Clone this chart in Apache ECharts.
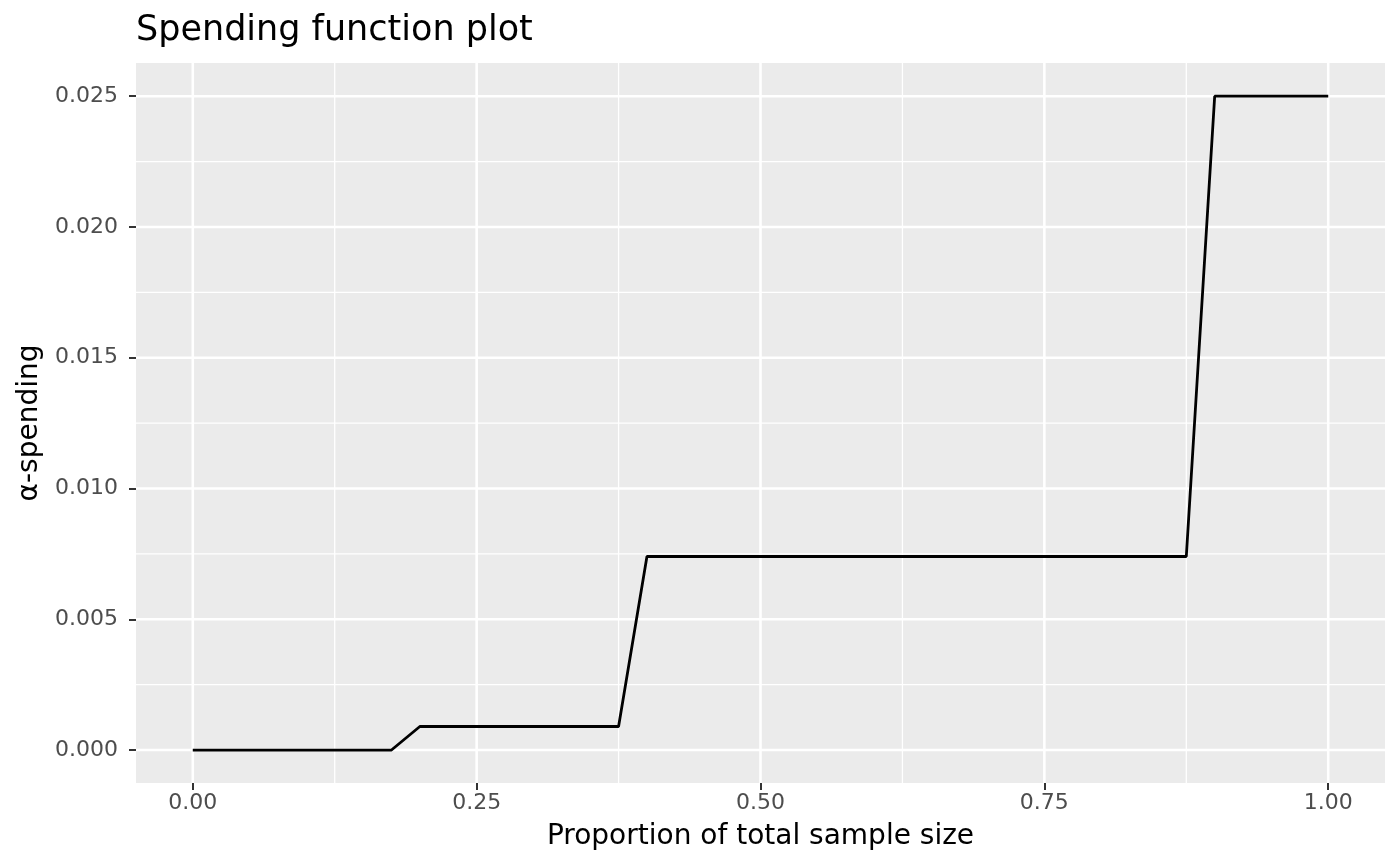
<!DOCTYPE html>
<html>
<head>
<meta charset="utf-8">
<script src="https://cdn.jsdelivr.net/npm/echarts@6/dist/echarts.min.js"></script>
<style>
  html, body { margin: 0; padding: 0; background: #fff; }
  #main { width: 1400px; height: 866px; }
</style>
</head>
<body>
<div id="main"></div>
<script>
// step points of the spending function
const propX = [0, 0.175, 0.2, 0.375, 0.4, 0.875, 0.9, 1.0];
const alphaY = [0, 0, 0.0009, 0.0009, 0.0074, 0.0074, 0.025, 0.025];

// axis limits + breaks (ggplot style, 5% expansion)
const xLim = [-0.05, 1.05];
const yLim = [-0.00126, 0.02627];
const xTicks = [0, 0.25, 0.5, 0.75, 1.0];
const xMinor = [0.125, 0.375, 0.625, 0.875];
const yTicks = [0, 0.005, 0.01, 0.015, 0.02, 0.025];
const yMinor = [0.0025, 0.0075, 0.0125, 0.0175, 0.0225];

const FONT = 'DejaVu Sans';

function gridSeries(){
    let list = [];
    let add = (pts, w)=>{
        list.push({
            type: 'line',
            z: 1,
            silent: true,
            symbol: 'none',
            animation: false,
            data: pts,
            lineStyle: {color: '#ffffff', width: w},
            emphasis: {disabled: true}
        });
    };
    xMinor.forEach(v=>add([[v, yLim[0]], [v, yLim[1]]], 1.3));
    yMinor.forEach(v=>add([[xLim[0], v], [xLim[1], v]], 1.3));
    xTicks.forEach(v=>add([[v, yLim[0]], [v, yLim[1]]], 2.6));
    yTicks.forEach(v=>add([[xLim[0], v], [xLim[1], v]], 2.6));
    return list;
}

let myChart = echarts.init(document.getElementById('main'));
let option = {
    animation: false,
    backgroundColor: '#ffffff',
    title: {
        text: 'Spending function plot',
        left: 136,
        top: 13,
        padding: 0,
        textStyle: {fontFamily: FONT, fontSize: 35, fontWeight: 'normal', color: '#000'}
    },
    grid: {
        left: 136, right: 15, top: 63, bottom: 83,
        show: true, backgroundColor: '#EBEBEB', borderWidth: 0
    },
    xAxis: {
        type: 'value',
        min: xLim[0], max: xLim[1],
        name: 'Proportion of total sample size',
        nameLocation: 'middle',
        nameGap: 40,
        nameTextStyle: {fontFamily: FONT, fontSize: 28, color: '#000'},
        axisLine: {show: false, onZero: false},
        axisTick: {show: true, customValues: xTicks, length: 7, lineStyle: {color: '#333', width: 2}},
        axisLabel: {customValues: xTicks, margin: 9, fontFamily: FONT, fontSize: 22, color: '#4D4D4D',
            formatter: v => v.toFixed(2)},
        splitLine: {show: false}
    },
    yAxis: {
        type: 'value',
        min: yLim[0], max: yLim[1],
        name: 'α-spending',
        nameLocation: 'middle',
        nameGap: 91,
        nameTextStyle: {fontFamily: FONT, fontSize: 28, color: '#000'},
        axisLine: {show: false, onZero: false},
        axisTick: {show: true, customValues: yTicks, length: 7, lineStyle: {color: '#333', width: 2}},
        axisLabel: {customValues: yTicks, margin: 18, fontFamily: FONT, fontSize: 22, color: '#4D4D4D',
            formatter: v => v.toFixed(3)},
        splitLine: {show: false}
    },
    series: gridSeries().concat([
        {
            type: 'line',
            z: 3,
            symbol: 'none',
            data: propX.map((x,i)=>[x, alphaY[i]]),
            lineStyle: {color: '#000', width: 2.8},
            itemStyle: {color: '#000'}
        }
    ])
};
myChart.setOption(option);
</script>
</body>
</html>
